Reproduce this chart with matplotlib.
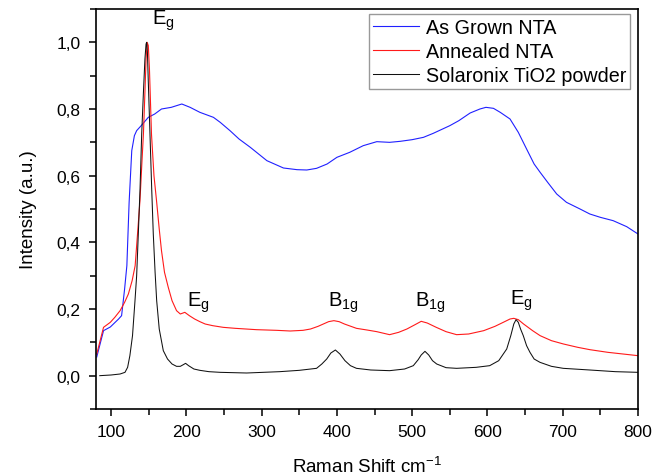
import matplotlib
matplotlib.use("Agg")
import matplotlib.pyplot as plt
from matplotlib.ticker import MultipleLocator, FuncFormatter

plt.rcParams['font.family'] = ['Liberation Sans', 'DejaVu Sans']
plt.rcParams['mathtext.fontset'] = 'custom'
plt.rcParams['mathtext.rm'] = 'Liberation Sans'
plt.rcParams['mathtext.it'] = 'Liberation Sans'

# ---- data ----
blue_x = [81, 90, 99, 110, 114, 118, 121, 124, 127.5, 131,
          134, 140, 149.5, 158, 167, 180, 194, 205, 218, 236,
          245, 258, 270, 285, 307, 329, 347, 360, 373, 387,
          400, 417, 435, 453, 470, 484, 500, 515, 528, 550,
          562, 577, 590, 598, 608, 617, 630, 641, 652, 662,
          670, 680, 692, 705, 723, 736, 750, 767, 785, 800]
blue_y = [0.056, 0.135, 0.146, 0.17, 0.18, 0.26, 0.33, 0.52, 0.675, 0.72,
          0.735, 0.75, 0.775, 0.785, 0.80, 0.805, 0.815, 0.805, 0.79, 0.775,
          0.76, 0.735, 0.71, 0.685, 0.645, 0.623, 0.618, 0.617, 0.622, 0.635,
          0.655, 0.67, 0.69, 0.702, 0.70, 0.703, 0.708, 0.715, 0.727, 0.75,
          0.765, 0.788, 0.80, 0.805, 0.802, 0.79, 0.77, 0.73, 0.68, 0.635,
          0.61, 0.58, 0.545, 0.52, 0.50, 0.485, 0.475, 0.465, 0.447, 0.425]

red_x = [81, 90, 99, 105, 112, 118, 123, 128, 132, 135,
         138.4, 141, 143, 145, 146.5, 148, 149.5, 151, 153.7, 157,
         160.4, 164, 167, 171, 176, 181, 187, 192, 198, 204,
         211, 218, 225, 235, 249, 265, 293, 320, 338, 355,
         365, 375, 382, 389, 396, 403, 410, 426, 440, 453,
         470, 482, 493, 503, 512, 520, 532, 545, 559, 575,
         595, 610, 621, 630, 635, 641, 648, 660, 670, 685,
         701, 720, 736, 760, 780, 800]
red_y = [0.065, 0.145, 0.16, 0.175, 0.195, 0.22, 0.245, 0.285, 0.33, 0.42,
         0.525, 0.64, 0.725, 0.85, 0.95, 1.0, 0.99, 0.92, 0.725, 0.6,
         0.525, 0.44, 0.375, 0.31, 0.265, 0.225, 0.195, 0.185, 0.19, 0.18,
         0.17, 0.162, 0.155, 0.15, 0.145, 0.142, 0.138, 0.136, 0.134, 0.136,
         0.14, 0.148, 0.155, 0.162, 0.165, 0.162, 0.155, 0.142, 0.137, 0.132,
         0.123, 0.13, 0.14, 0.152, 0.163, 0.158, 0.145, 0.132, 0.123, 0.125,
         0.135, 0.148, 0.16, 0.17, 0.172, 0.168, 0.155, 0.135, 0.12, 0.105,
         0.095, 0.085, 0.078, 0.07, 0.065, 0.06]

black_x = [85, 100, 112, 118.5, 122, 125, 128.5, 131.8, 134, 136.2,
           138.5, 140.7, 143, 145, 146.5, 147.3, 148.3, 149.5, 151.7, 154,
           156.1, 158.5, 160.6, 164, 169.4, 175, 181, 187, 192, 196,
           199, 203, 210, 218, 230, 245, 280, 324, 350, 373,
           380, 386.5, 392, 398, 404, 410.7, 418, 426, 445, 470,
           490, 501.5, 508, 512, 517, 522, 527, 532.6, 545, 559,
           585, 603, 615, 625.6, 631, 635, 638, 641, 644, 647.6,
           652, 656.5, 662, 669.8, 685, 700.7, 736, 770, 800]
black_y = [0.0, 0.002, 0.005, 0.01, 0.025, 0.06, 0.12, 0.225, 0.3, 0.425,
           0.56, 0.725, 0.85, 0.95, 0.995, 1.0, 0.97, 0.88, 0.725, 0.56,
           0.425, 0.31, 0.225, 0.14, 0.075, 0.05, 0.035, 0.028, 0.028, 0.033,
           0.037, 0.03, 0.02, 0.016, 0.012, 0.01, 0.008, 0.012, 0.016, 0.022,
           0.035, 0.05, 0.068, 0.077, 0.065, 0.045, 0.03, 0.022, 0.017, 0.015,
           0.02, 0.03, 0.048, 0.062, 0.073, 0.062, 0.045, 0.035, 0.024, 0.022,
           0.025, 0.03, 0.045, 0.08, 0.12, 0.155, 0.168, 0.16, 0.14, 0.12,
           0.09, 0.07, 0.05, 0.04, 0.028, 0.022, 0.017, 0.012, 0.01]

series_labels = ["As Grown NTA", "Annealed NTA", "Solaronix TiO2 powder"]

# peak annotations: (label, x, y)
peak_labels = [r"$\mathregular{E_g}$", r"$\mathregular{E_g}$", r"$\mathregular{B_{1g}}$",
               r"$\mathregular{B_{1g}}$", r"$\mathregular{E_g}$"]
peak_x = [154, 201, 388, 504, 630]
peak_y = [1.055, 0.211, 0.211, 0.211, 0.215]

# ---- figure ----
fig = plt.figure(figsize=(6.52, 4.77), dpi=100)
ax = fig.add_axes([96/652, 67/477, 542/652, 400/477])

ax.plot(blue_x, blue_y, color='#2020ff', lw=0.8, label=series_labels[0])
ax.plot(red_x, red_y, color='#ff1a1a', lw=0.8, label=series_labels[1])
ax.plot(black_x, black_y, color='#111111', lw=0.75, label=series_labels[2])

for t, x, y in zip(peak_labels, peak_x, peak_y):
    ax.text(x, y, t, fontsize=14.5, ha='left', va='baseline')

ax.set_xlim(80, 800)
ax.set_ylim(-0.1, 1.1)
ax.xaxis.set_major_locator(MultipleLocator(100))
ax.xaxis.set_minor_locator(MultipleLocator(50))
ax.yaxis.set_major_locator(MultipleLocator(0.2))
ax.yaxis.set_minor_locator(MultipleLocator(0.1))
ax.yaxis.set_major_formatter(FuncFormatter(lambda v, p: f"{v:.1f}".replace('.', ',').replace('-0,0', '0,0')))

ax.tick_params(which='both', direction='out', top=False, right=False, width=1.1, labelsize=12.5)
ax.tick_params(which='major', length=5, pad=6)
ax.tick_params(which='minor', length=4)
for s in ax.spines.values():
    s.set_linewidth(1.2)

ax.set_xlabel(r"Raman Shift cm$^{\mathregular{-1}}$", fontsize=13.5, labelpad=12)
ax.set_ylabel("Intensity (a.u.)", fontsize=13.5, labelpad=14)

leg = ax.legend(loc='upper right', bbox_to_anchor=(0.985, 0.9875), borderaxespad=0,
                fontsize=14.2, frameon=True, fancybox=False, edgecolor='#808080',
                handlelength=2.3, handletextpad=0.35, labelspacing=0.25, borderpad=0.2)
leg.get_frame().set_linewidth(1.0)

fig.savefig("out.png", dpi=100)
